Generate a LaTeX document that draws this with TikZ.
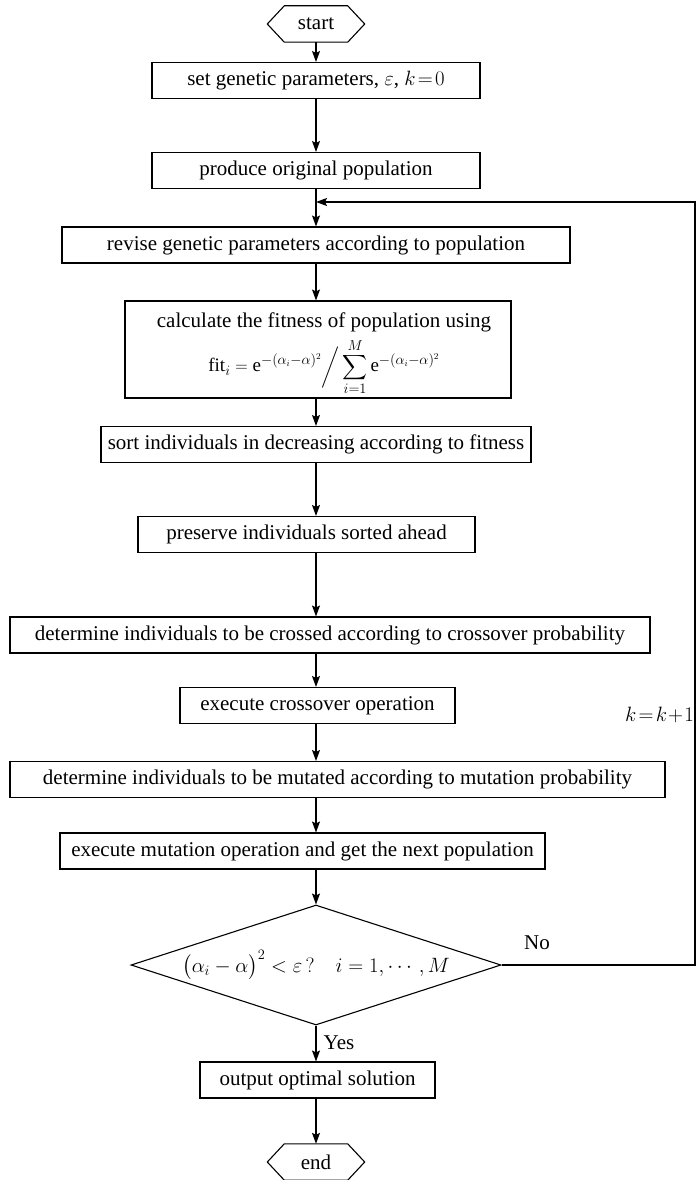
\documentclass[tikz,border=0pt]{standalone}
\usepackage{amsmath}
\usepackage{fontspec}
\setmainfont{Liberation Serif}
\usetikzlibrary{shapes.geometric,arrows.meta}
\begin{document}
\begin{tikzpicture}[x=1pt,y=-1pt,
  every node/.style={font=\fontsize{21}{25}\selectfont},
  box/.style={draw,line width=1.1pt,minimum height=36pt,inner sep=0pt},
  term/.style={minimum width=63pt,minimum height=36pt,inner sep=0pt},
  arr/.style={-{Stealth[length=11pt,width=8pt,inset=2pt]},line width=1.1pt},
  ln/.style={line width=1.1pt}]
\useasboundingbox (0,0) rectangle (696,1180);
\coordinate (ax) at (316,0);
\coordinate (rx) at (695,0);
\coordinate (loopin) at (316,202);

\node[term] (start) at (316,24) {start};
\draw[ln] ([xshift=-17pt]start.west) -- (start.north west) -- (start.north east)
  -- ([xshift=17pt]start.east) -- (start.south east) -- (start.south west) -- cycle;

\node[box,minimum width=328pt] (b1) at (316,80.5) {set genetic parameters, $\varepsilon$, $k\!=\!0$};
\node[box,minimum width=328pt] (b2) at (316,170.5) {produce original population};
\node[box,minimum width=508pt] (b3) at (316,245) {revise genetic parameters according to population};
\node[box,minimum width=386pt,minimum height=97pt] (b4) at (318,349.5) {};
\node (b4t) at (324,322) {calculate the fitness of population using};
\node[font=\fontsize{19}{23}\selectfont] (b4f) at (324,367)
  {$\displaystyle \mathrm{fit}_i=\mathrm{e}^{-(\alpha_i-\alpha)^2}\bigg/\sum_{i=1}^{M}\mathrm{e}^{-(\alpha_i-\alpha)^2}$};
\node[box,minimum width=430pt] (b5) at (316,444.5) {sort individuals in decreasing according to fitness};
\node[box,minimum width=337pt] (b6) at (306.5,534.5) {preserve individuals sorted ahead};
\node[box,minimum width=640pt] (b7) at (330,635) {determine individuals to be crossed according to crossover probability};
\node[box,minimum width=275pt] (b8) at (317.5,705.5) {execute crossover operation};
\node[anchor=east,inner sep=1pt] (kk) at (695,715) {$k\!=\!k\!+\!1$};
\node[box,minimum width=655pt] (b9) at (337.5,779.5) {determine individuals to be mutated according to mutation probability};
\node[box,minimum width=485pt] (b10) at (302.5,851) {execute mutation operation and get the next population};
\node[diamond,draw,line width=1.1pt,minimum width=370pt,minimum height=120pt,shape aspect=3.08,inner sep=0pt] (dec) at (316,965)
  {$\big(\alpha_i-\alpha\big)^2<\varepsilon\,?\quad i=1,\cdots,M$};
\node (no) at (537,943) {No};
\node (yes) at (339,1043) {Yes};
\node[box,minimum width=235pt] (b11) at (317.5,1080) {output optimal solution};
\node[term] (end) at (316,1162) {end};
\draw[ln] ([xshift=-17pt]end.west) -- (end.north west) -- (end.north east)
  -- ([xshift=17pt]end.east) -- (end.south east) -- (end.south west) -- cycle;

\draw[arr] (ax |- start.south) -- (ax |- b1.north);
\draw[arr] (ax |- b1.south) -- (ax |- b2.north);
\draw[arr] (ax |- b2.south) -- (ax |- b3.north);
\draw[arr] (ax |- b3.south) -- (ax |- b4.north);
\draw[arr] (ax |- b4.south) -- (ax |- b5.north);
\draw[arr] (ax |- b5.south) -- (ax |- b6.north);
\draw[arr] (ax |- b6.south) -- (ax |- b7.north);
\draw[arr] (ax |- b7.south) -- (ax |- b8.north);
\draw[arr] (ax |- b8.south) -- (ax |- b9.north);
\draw[arr] (ax |- b9.south) -- (ax |- b10.north);
\draw[arr] (ax |- b10.south) -- (dec.north);
\draw[arr] (dec.south) -- (ax |- b11.north);
\draw[arr] (ax |- b11.south) -- (ax |- end.north);
\draw[arr] (dec.east) -- (dec.east -| rx) |- (loopin);
\end{tikzpicture}
\end{document}
